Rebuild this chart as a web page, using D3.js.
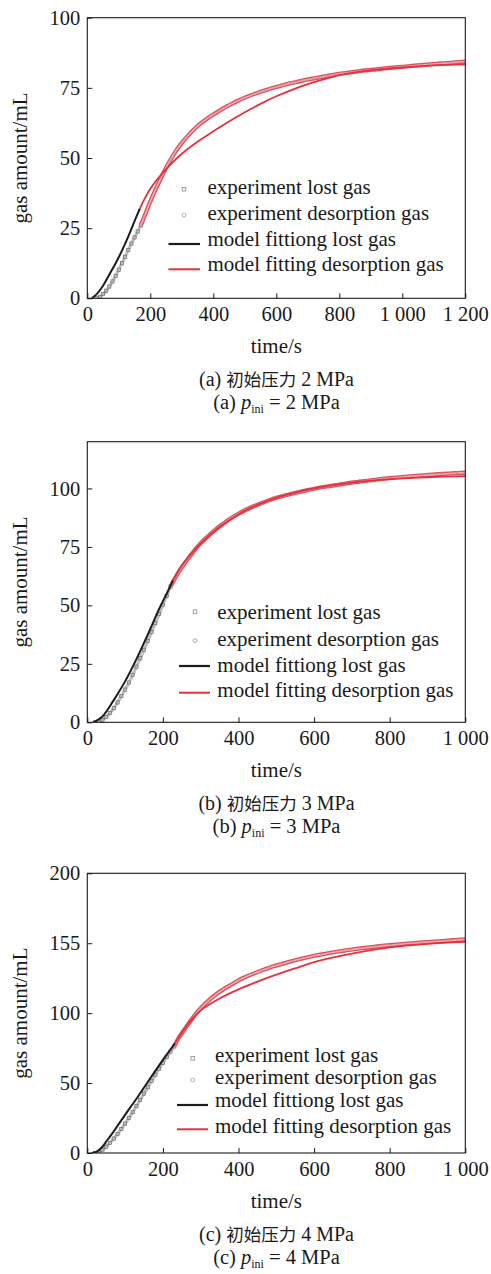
<!DOCTYPE html>
<html>
<head>
<meta charset="utf-8">
<script src="https://cdn.jsdelivr.net/npm/d3@7"></script>
<style>
  html, body { margin: 0; padding: 0; background: #fff; }
  svg { display: block; }
  text { font-family: "Liberation Serif", "Times New Roman", serif; fill: #1a1a1a; }
  .cjk { font-family: "Noto Sans CJK SC", sans-serif; }
</style>
</head>
<body>
<svg id="chart" width="491" height="1274"></svg>
<script>
// ---------------- DATA ----------------
// Panel (a) p_ini = 2 MPa
const a_xTicks = [0, 200, 400, 600, 800, 1000, 1200];
const a_xTickLabels = ["0", "200", "400", "600", "800", "1 000", "1 200"];
const a_yTicks = [0, 25, 50, 75, 100];
const a_yTickLabels = ["0", "25", "50", "75", "100"];
const a_expLostT = [30, 40, 50, 60, 70, 80, 90, 100, 110, 120, 130, 140, 150, 160, 170];
const a_expLostV = [0, 0.5, 1.5, 2.7, 4.2, 6, 8, 10.2, 12.5, 14.8, 17.2, 19.5, 21.7, 23.8, 26];
const a_expDesT = d3.range(180, 1201, 20);
const a_expDesV = [28.8, 34.5, 39.5, 44.3, 48.6, 52.3, 55.4, 58, 60.3, 62.3, 64, 65.5,
  66.9, 68.2, 69.4, 70.5, 71.5, 72.4, 73.2, 74, 74.7, 75.3, 75.9, 76.5, 77, 77.5, 78,
  78.4, 78.8, 79.2, 79.6, 80, 80.3, 80.6, 80.9, 81.2, 81.4, 81.6, 81.9, 82.1, 82.3, 82.5,
  82.7, 82.9, 83.1, 83.3, 83.5, 83.7, 83.8, 84, 84.2, 84.4];
const a_modLostT = [14, 30, 50, 70, 90, 110, 130, 150, 167];
const a_modLostV = [0, 1.5, 4.5, 8.5, 12.5, 17, 22, 27.5, 32];
const a_modDesT = [167, 200, 250, 300, 350, 400, 450, 500, 550, 600, 650, 700, 750, 800, 850, 900, 1000, 1100, 1200];
const a_modDesV = [32, 39, 46, 51.5, 55.8, 59.5, 63, 66.3, 69.3, 72, 74.3, 76.3, 78, 79.5, 80.5, 81.3, 82.3, 83, 83.4];

// Panel (b) p_ini = 3 MPa
const b_xTicks = [0, 200, 400, 600, 800, 1000];
const b_xTickLabels = ["0", "200", "400", "600", "800", "1 000"];
const b_yTicks = [0, 25, 50, 75, 100];
const b_yTickLabels = ["0", "25", "50", "75", "100"];
const b_expLostT = d3.range(20, 221, 10);
const b_expLostV = [0, 0.3, 1, 2.2, 4, 6, 8.5, 11.2, 14, 17, 20.3, 23.8, 27.4, 31, 34.8,
  38.6, 42.4, 46.3, 50.2, 54, 58];
const b_expDesT = d3.range(240, 1001, 20);
const b_expDesV = [63.8, 68.5, 72.8, 76.6, 79.7, 82.5, 85, 87.3, 89.2, 90.9, 92.4, 93.7,
  94.9, 96, 96.9, 97.7, 98.5, 99.2, 99.9, 100.5, 101, 101.5, 102, 102.5, 102.9, 103.3,
  103.7, 104.1, 104.4, 104.7, 105, 105.3, 105.5, 105.8, 106, 106.2, 106.4, 106.6, 106.8];
const b_modLostT = [16, 40, 70, 100, 130, 160, 190, 210, 227];
const b_modLostV = [0, 2.5, 9.5, 17.5, 27, 37.5, 48.5, 55, 60.7];
const b_modDesT = [227, 250, 275, 300, 350, 400, 450, 500, 550, 600, 700, 800, 900, 1000];
const b_modDesV = [60.7, 67, 72, 76.5, 83.5, 89, 93, 96, 98.2, 100, 102.5, 104, 104.8, 105.3];

// Panel (c) p_ini = 4 MPa
const c_xTicks = [0, 200, 400, 600, 800, 1000];
const c_xTickLabels = ["0", "200", "400", "600", "800", "1 000"];
const c_yTicks = [0, 50, 100, 150, 200];
const c_yTickLabels = ["0", "50", "100", "155", "200"];
const c_expLostT = d3.range(20, 231, 10);
const c_expLostV = [0, 0.8, 2.3, 4.5, 7.2, 10.3, 13.6, 17.2, 21, 25, 29.2, 33.5, 38, 42.5,
  47, 51.5, 56, 60.3, 64.5, 68.6, 72.5, 76.2];
const c_expDesT = d3.range(240, 1001, 20);
const c_expDesV = [81.5, 89.5, 97, 103.5, 108.8, 113.3, 117, 120.2, 123.5, 126, 128.3,
  130.4, 132.3, 134, 135.6, 137.1, 138.5, 139.8, 141, 142, 143, 143.9, 144.7, 145.5, 146.2,
  146.9, 147.5, 148.1, 148.6, 149.1, 149.6, 150, 150.4, 150.8, 151.2, 151.6, 152, 152.4, 152.8];
const c_modLostT = [12, 25, 40, 55, 70, 100, 130, 160, 190, 210, 232];
const c_modLostV = [0, 1, 4.5, 10, 15.5, 27.3, 38.8, 50.8, 62.7, 70.3, 78.4];
const c_modDesT = [232, 250, 275, 300, 350, 400, 450, 500, 550, 600, 700, 800, 900, 1000];
const c_modDesV = [78.4, 86, 95, 102, 110.5, 117, 122.5, 127.5, 132, 136.5, 142.5, 147, 149.5, 151];

const legendLabels = ["experiment lost gas", "experiment desorption gas",
  "model fittiong lost gas", "model fitting desorption gas"];
const xTitle = "time/s";
const yTitle = "gas amount/mL";
const captionLetters = ["(a)", "(b)", "(c)"];
const captionPressures = ["2", "3", "4"];
const captionCN = "初始压力";

// ---------------- LAYOUT ----------------
const panels = [
  { xMax: 1200, yMax: 100, xTicks: a_xTicks, xTickLabels: a_xTickLabels, yTicks: a_yTicks, yTickLabels: a_yTickLabels,
    expLostT: a_expLostT, expLostV: a_expLostV, expDesT: a_expDesT, expDesV: a_expDesV,
    modLostT: a_modLostT, modLostV: a_modLostV, modDesT: a_modDesT, modDesV: a_modDesV,
    top: 17.7, bottom: 298.3,
    leg: { textX: 207.5, base: [194, 219.5, 245.5, 271], markX: 184, markY: [189.3, 215], lineX: [168.5, 200], lineY: [244, 269.3] } },
  { xMax: 1000, yMax: 120, xTicks: b_xTicks, xTickLabels: b_xTickLabels, yTicks: b_yTicks, yTickLabels: b_yTickLabels,
    expLostT: b_expLostT, expLostV: b_expLostV, expDesT: b_expDesT, expDesV: b_expDesV,
    modLostT: b_modLostT, modLostV: b_modLostV, modDesT: b_modDesT, modDesV: b_modDesV,
    top: 441.7, bottom: 722.3,
    leg: { textX: 217.3, base: [619.3, 645.5, 672.3, 697.3], markX: 195, markY: [611.7, 640.7], lineX: [179, 210], lineY: [666, 692.7] } },
  { xMax: 1000, yMax: 200, xTicks: c_xTicks, xTickLabels: c_xTickLabels, yTicks: c_yTicks, yTickLabels: c_yTickLabels,
    expLostT: c_expLostT, expLostV: c_expLostV, expDesT: c_expDesT, expDesV: c_expDesV,
    modLostT: c_modLostT, modLostV: c_modLostV, modDesT: c_modDesT, modDesV: c_modDesV,
    top: 873.3, bottom: 1153,
    leg: { textX: 215, base: [1061.7, 1084, 1107, 1132.7], markX: 192.7, markY: [1058.3, 1080], lineX: [177, 208], lineY: [1105, 1129.3] } }
];
const left = 87.3, right = 465.3;

const svg = d3.select("#chart");

panels.forEach((p, i) => {
  const x = d3.scaleLinear().domain([0, p.xMax]).range([left, right]);
  const y = d3.scaleLinear().domain([0, p.yMax]).range([p.bottom, p.top]);
  const g = svg.append("g");

  const clipId = "clip" + i;
  svg.append("defs").append("clipPath").attr("id", clipId)
    .append("rect").attr("x", left).attr("y", p.top).attr("width", right - left).attr("height", p.bottom - p.top);
  const plot = g.append("g").attr("clip-path", `url(#${clipId})`);

  const line = d3.line().x(d => x(d[0])).y(d => y(d[1])).curve(d3.curveCatmullRom.alpha(0.5));
  const expLost = p.expLostT.map((t, k) => [t, p.expLostV[k]]);
  const expDes = p.expDesT.map((t, k) => [t, p.expDesV[k]]);
  const modLost = p.modLostT.map((t, k) => [t, p.modLostV[k]]);
  const modDes = p.modDesT.map((t, k) => [t, p.modDesV[k]]);
  // the desorption band continues from the last lost-gas sample
  const expDesPath = [expLost[expLost.length - 1]].concat(expDes);

  // experiment lost gas (grey markers band)
  plot.append("path").datum(expLost).attr("d", line)
    .attr("fill", "none").attr("stroke", "#a8a8a8").attr("stroke-width", 3.2).attr("opacity", 0.75);
  plot.selectAll(".el").data(expLost).enter().append("rect")
    .attr("x", d => x(d[0]) - 1.6).attr("y", d => y(d[1]) - 1.6)
    .attr("width", 3.2).attr("height", 3.2)
    .attr("fill", "none").attr("stroke", "#6e6e6e").attr("stroke-width", 0.7);

  // experiment desorption gas (pink/red markers band)
  plot.append("path").datum(expDesPath).attr("d", line)
    .attr("fill", "none").attr("stroke", "#e24a57").attr("stroke-width", 4.2);
  plot.append("path").datum(expDesPath).attr("d", line)
    .attr("fill", "none").attr("stroke", "#efb2b8").attr("stroke-width", 1.6);
  plot.selectAll(".ed").data(expDes).enter().append("circle")
    .attr("cx", d => x(d[0])).attr("cy", d => y(d[1])).attr("r", 1.4)
    .attr("fill", "none").attr("stroke", "#b88a8e").attr("stroke-width", 0.6);

  // model fitting
  plot.append("path").datum(modLost).attr("d", line)
    .attr("fill", "none").attr("stroke", "#1c1c1c").attr("stroke-width", 2);
  plot.append("path").datum(modDes).attr("d", line)
    .attr("fill", "none").attr("stroke", "#e5303d").attr("stroke-width", 1.8);

  // axes
  const xAxis = d3.axisBottom(x).tickValues(p.xTicks)
    .tickFormat((d, k) => p.xTickLabels[k]).tickSize(-5).tickPadding(8);
  const gx = g.append("g").attr("transform", `translate(0,${p.bottom})`).call(xAxis);
  gx.select(".domain").remove();
  gx.selectAll("line").attr("stroke", "#1a1a1a");
  gx.selectAll("text").attr("font-size", 20.5).attr("font-family", "Liberation Serif").attr("fill", "#1a1a1a");

  const yAxis = d3.axisLeft(y).tickValues(p.yTicks)
    .tickFormat((d, k) => p.yTickLabels[k]).tickSize(-5).tickPadding(7);
  const gy = g.append("g").attr("transform", `translate(${left},0)`).call(yAxis);
  gy.select(".domain").remove();
  gy.selectAll("line").attr("stroke", "#1a1a1a");
  gy.selectAll("text").attr("font-size", 20.5).attr("font-family", "Liberation Serif").attr("fill", "#1a1a1a");

  // frame
  g.append("rect").attr("x", left).attr("y", p.top).attr("width", right - left).attr("height", p.bottom - p.top)
    .attr("fill", "none").attr("stroke", "#1a1a1a").attr("stroke-width", 1.1);

  // axis titles
  g.append("text").attr("x", (left + right) / 2).attr("y", p.bottom + 55)
    .attr("text-anchor", "middle").attr("font-size", 21).text(xTitle);
  g.append("text").attr("transform", `translate(27,${(p.top + p.bottom) / 2}) rotate(-90)`)
    .attr("text-anchor", "middle").attr("font-size", 21).text(yTitle);

  // legend
  const L = p.leg;
  g.append("rect").attr("x", L.markX - 1.8).attr("y", L.markY[0] - 1.8).attr("width", 3.6).attr("height", 3.6)
    .attr("fill", "none").attr("stroke", "#8a8a8a").attr("stroke-width", 0.8);
  g.append("circle").attr("cx", L.markX).attr("cy", L.markY[1]).attr("r", 1.9)
    .attr("fill", "none").attr("stroke", "#b39396").attr("stroke-width", 0.8);
  g.append("line").attr("x1", L.lineX[0]).attr("x2", L.lineX[1]).attr("y1", L.lineY[0]).attr("y2", L.lineY[0])
    .attr("stroke", "#1c1c1c").attr("stroke-width", 2.2);
  g.append("line").attr("x1", L.lineX[0]).attr("x2", L.lineX[1]).attr("y1", L.lineY[1]).attr("y2", L.lineY[1])
    .attr("stroke", "#e5303d").attr("stroke-width", 2);
  legendLabels.forEach((lab, k) => {
    g.append("text").attr("x", L.textX).attr("y", L.base[k]).attr("font-size", 21).text(lab);
  });

  // captions
  const cx = 276.5;
  const c1 = g.append("text").attr("x", cx).attr("y", p.bottom + 88).attr("text-anchor", "middle").attr("font-size", 20);
  c1.append("tspan").text(captionLetters[i] + " ");
  c1.append("tspan").attr("class", "cjk").attr("font-size", 17.5).text(captionCN);
  c1.append("tspan").text(" " + captionPressures[i] + " MPa");

  const c2 = g.append("text").attr("x", cx).attr("y", p.bottom + 111).attr("text-anchor", "middle").attr("font-size", 20.5);
  c2.append("tspan").text(captionLetters[i] + " ");
  c2.append("tspan").attr("font-style", "italic").text("p");
  c2.append("tspan").attr("font-size", 12).attr("dy", 4).text("ini");
  c2.append("tspan").attr("dy", -4).text(" = " + captionPressures[i] + " MPa");
});
</script>
</body>
</html>
